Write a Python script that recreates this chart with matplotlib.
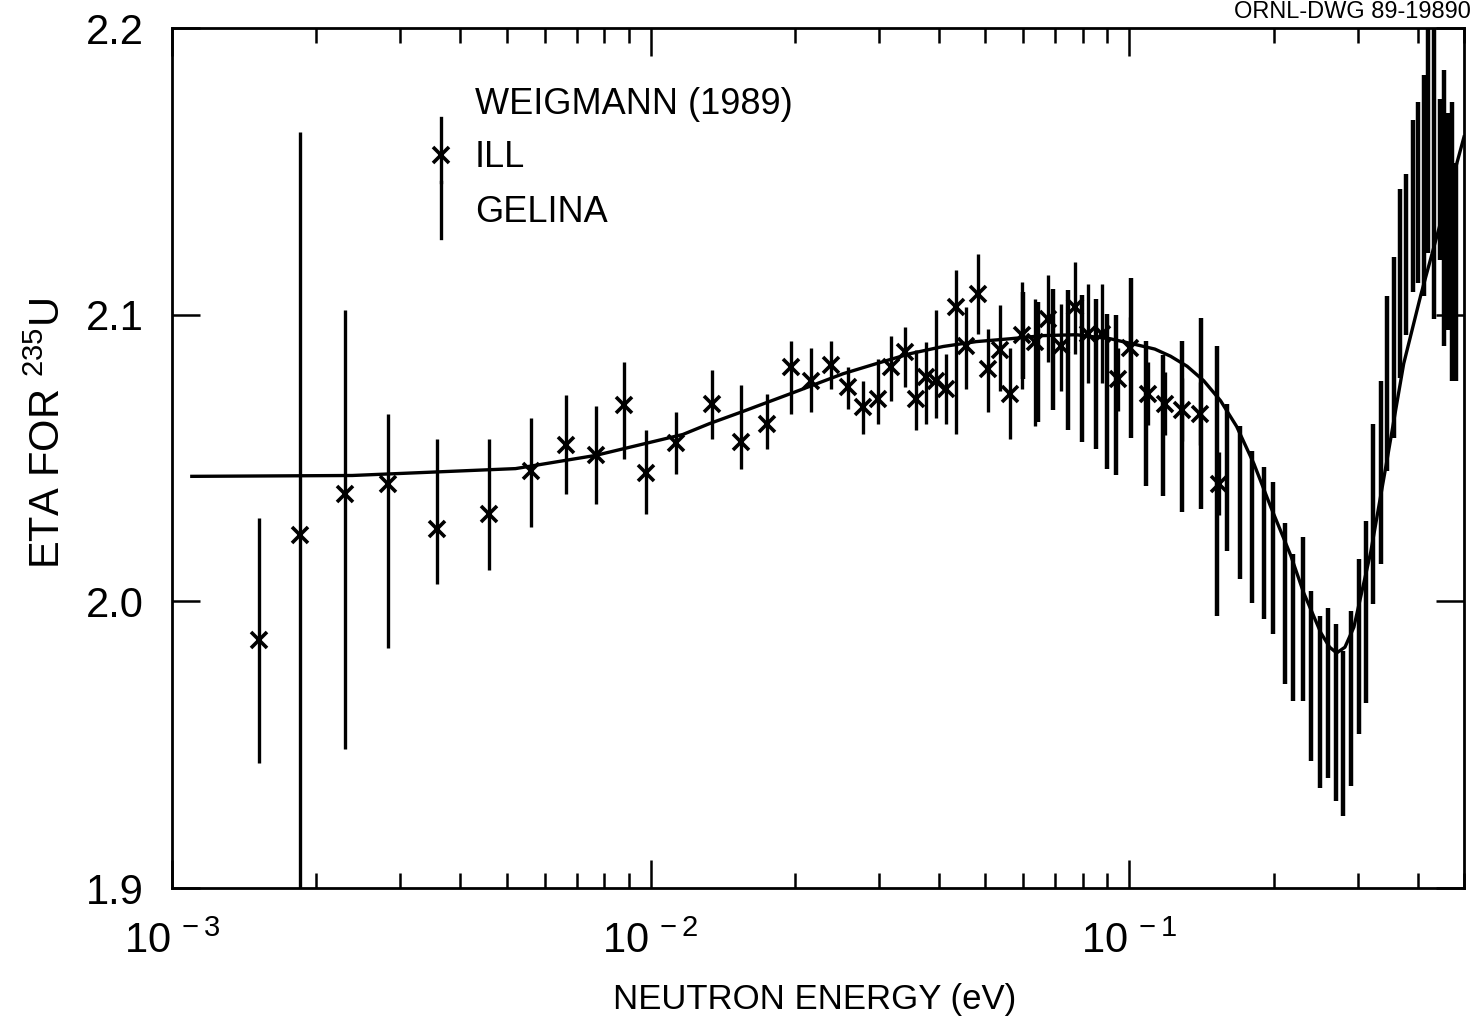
import matplotlib
matplotlib.use('Agg')
import matplotlib.pyplot as plt
from matplotlib.ticker import NullFormatter, NullLocator, LogLocator
import numpy as np

plt.rcParams['font.family'] = ['Liberation Sans', 'DejaVu Sans']

# ILL (Weigmann 1989): energy (eV), eta, lower / upper end of error bar
ill_e = [1.52e-3, 1.85e-3, 2.30e-3, 2.83e-3, 3.58e-3, 4.60e-3, 5.61e-3, 6.64e-3,
         7.67e-3, 8.78e-3, 9.76e-3, 1.128e-2, 1.341e-2, 1.543e-2, 1.749e-2, 1.963e-2,
         2.161e-2, 2.380e-2, 2.583e-2, 2.777e-2, 2.985e-2, 3.178e-2, 3.400e-2, 3.584e-2,
         3.761e-2, 3.947e-2, 4.142e-2, 4.346e-2, 4.560e-2, 4.831e-2, 5.070e-2, 5.373e-2,
         5.637e-2, 5.973e-2, 6.358e-2, 6.768e-2, 7.205e-2, 7.709e-2, 8.207e-2, 8.781e-2,
         9.484e-2, 0.1005, 0.1091, 0.1189, 0.1285, 0.1401, 0.1536]
ill_eta = [1.9864, 2.0233, 2.0373, 2.0408, 2.0251, 2.0303, 2.0453, 2.0547,
           2.0512, 2.0686, 2.0449, 2.0551, 2.0690, 2.0557, 2.0620, 2.0819,
           2.0767, 2.0826, 2.0749, 2.0679, 2.0707, 2.0819, 2.0871, 2.0707,
           2.0784, 2.0767, 2.0742, 2.1028, 2.0889, 2.1073, 2.0812, 2.0878,
           2.0725, 2.0930, 2.0906, 2.0986, 2.0889, 2.1028, 2.0934, 2.0934,
           2.0774, 2.0882, 2.0725, 2.0690, 2.0669, 2.0655, 2.0411]
ill_hi = [2.0289, 2.1638, 2.1017, 2.0652, 2.0568, 2.0568, 2.0641, 2.0721,
          2.0683, 2.0836, 2.0599, 2.0662, 2.0808, 2.0756, 2.0725, 2.0909,
          2.0882, 2.0909, 2.0819, 2.0767, 2.0847, 2.0927, 2.0958, 2.0878,
          2.0906, 2.1017, 2.0864, 2.1157, 2.1028, 2.1213, 2.0951, 2.1035,
          2.0882, 2.1115, 2.1056, 2.1139, 2.1038, 2.1185, 2.1108, 2.1108,
          2.0885, 2.0993, 2.0835, 2.0800, 2.0780, 2.0765, 2.0520]
ill_lo = [1.9436, 1.8800, 1.9484, 1.9836, 2.0059, 2.0111, 2.0258, 2.0376,
          2.0341, 2.0498, 2.0303, 2.0443, 2.0568, 2.0463, 2.0530, 2.0652,
          2.0662, 2.0742, 2.0672, 2.0585, 2.0617, 2.0700, 2.0749, 2.0599,
          2.0617, 2.0638, 2.0617, 2.0582, 2.0742, 2.0934, 2.0662, 2.0732,
          2.0568, 2.0742, 2.0610, 2.0836, 2.0732, 2.0864, 2.0760, 2.0760,
          2.0663, 2.0771, 2.0615, 2.0580, 2.0560, 2.0545, 2.0300]

# GELINA: energy (eV), lower / upper end of error bar
gel_e = [6.00e-2, 6.451e-2, 6.934e-2, 7.455e-2, 7.975e-2, 8.531e-2, 8.995e-2, 9.394e-2,
         0.1010, 0.1085, 0.1178, 0.1285, 0.1408, 0.1521, 0.1596, 0.1699,
         0.1800, 0.1907, 0.1992, 0.2110, 0.2193, 0.2301, 0.2392, 0.2497,
         0.2595, 0.2698, 0.2790, 0.2900, 0.3014, 0.3117, 0.3224, 0.3351,
         0.3449, 0.3567, 0.3672, 0.3780, 0.3910, 0.4005, 0.4122, 0.4202,
         0.4325, 0.4452, 0.4539, 0.4627, 0.4717, 0.4808]
gel_hi = [2.1080, 2.1045, 2.1091, 2.1087, 2.1070, 2.1056, 2.1003, 2.1000,
          2.1129, 2.0909, 2.0861, 2.0909, 2.0990, 2.0889, 2.0690, 2.0610,
          2.0523, 2.0470, 2.0418, 2.0272, 2.0164, 2.0226, 2.0035, 1.9948,
          1.9976, 1.9920, 1.9826, 1.9965, 2.0146, 2.0279, 2.0620, 2.0767,
          2.1066, 2.1202, 2.1439, 2.1491, 2.1679, 2.1742, 2.1836, 2.2100,
          2.2100, 2.1753, 2.1854, 2.1704, 2.1742, 2.1530]
gel_lo = [2.0774, 2.0627, 2.0669, 2.0599, 2.0557, 2.0530, 2.0460, 2.0439,
          2.0571, 2.0401, 2.0369, 2.0310, 2.0321, 1.9948, 2.0174, 2.0077,
          1.9993, 1.9937, 1.9885, 1.9711, 1.9652, 1.9652, 1.9443, 1.9348,
          1.9383, 1.9303, 1.9251, 1.9355, 1.9537, 1.9645, 1.9990, 2.0129,
          2.0453, 2.0571, 2.0780, 2.0930, 2.1080, 2.1111, 2.1066, 2.1216,
          2.0986, 2.1192, 2.0892, 2.0948, 2.0767, 2.0770]

# evaluated curve
curve_e = [1.10e-3, 2.38e-3, 5.22e-3, 7.67e-3, 9.77e-3, 1.167e-2, 1.327e-2, 1.556e-2,
           1.963e-2, 2.523e-2, 2.958e-2, 3.483e-2, 4.083e-2, 4.786e-2, 5.636e-2, 6.607e-2,
           7.745e-2, 9.120e-2, 0.1035, 0.1130, 0.1219, 0.1320, 0.1429, 0.1550,
           0.1675, 0.1820, 0.1972, 0.2173, 0.2312, 0.2512, 0.2620, 0.2710,
           0.2820, 0.2944, 0.3192, 0.3451, 0.3741, 0.4064, 0.4385, 0.4764, 0.5]
curve_eta = [2.0436, 2.0439, 2.0463, 2.0509, 2.0551, 2.0582, 2.0620, 2.0662,
             2.0725, 2.0794, 2.0829, 2.0864, 2.0889, 2.0906, 2.0916, 2.0927,
             2.0930, 2.0916, 2.0895, 2.0880, 2.0855, 2.0820, 2.0770, 2.0700,
             2.0610, 2.0480, 2.0331, 2.0160, 2.0030, 1.9890, 1.9840, 1.9820,
             1.9840, 1.9910, 2.0171, 2.0491, 2.0829, 2.1070, 2.1272, 2.1491, 2.1620]

W, H = 1474, 1033
fig = plt.figure(figsize=(W / 100, H / 100), dpi=100)
ax = fig.add_axes([172 / W, 1 - 888 / H, 1292 / W, 860 / H])
ax.set_xscale('log')

ill_e_a = np.array(ill_e)
ill_eta_a = np.array(ill_eta)
yerr = [ill_eta_a - np.array(ill_lo), np.array(ill_hi) - ill_eta_a]
ax.errorbar(ill_e_a, ill_eta_a, yerr=yerr, fmt='x', color='k', ms=11, mew=2.6,
            elinewidth=2.4, capsize=0)
ax.vlines(gel_e, gel_lo, gel_hi, color='k', lw=3.2)
ax.plot(curve_e, curve_eta, color='k', lw=2.4)

ax.set_xlim(1e-3, 0.5)
ax.set_ylim(1.9, 2.2)

ax.set_xticks([1e-3, 1e-2, 1e-1])
ax.set_xticklabels([r'$\mathregular{10^{\,-3}}$', r'$\mathregular{10^{\,-2}}$',
                    r'$\mathregular{10^{\,-1}}$'])
ax.xaxis.set_minor_locator(LogLocator(base=10, subs=np.arange(2, 10)))
ax.xaxis.set_minor_formatter(NullFormatter())
ax.set_yticks([1.9, 2.0, 2.1, 2.2])
ax.set_yticklabels(['1.9', '2.0', '2.1', '2.2'])
ax.yaxis.set_minor_locator(NullLocator())

ax.tick_params(which='both', direction='in', top=True, right=True, width=1.8,
               labelsize=30)
ax.tick_params(which='major', length=20)
ax.tick_params(which='minor', length=11)
ax.tick_params(axis='y', pad=20)
ax.tick_params(axis='x', pad=24)
for s in ax.spines.values():
    s.set_linewidth(2)

# legend drawn by hand
tr = ax.transAxes
ax.text(0.2345, 0.9105, 'WEIGMANN (1989)', transform=tr, fontsize=26, va='center')
ax.text(0.2345, 0.849, 'ILL', transform=tr, fontsize=26, va='center')
ax.text(0.2345, 0.786, 'GELINA', transform=tr, fontsize=26, va='center')
ax.plot([0.2082, 0.2082], [0.821, 0.895], transform=tr, color='k', lw=2.4)
ax.plot([0.2082], [0.852], transform=tr, marker='x', color='k', ms=11, mew=2.6)
ax.plot([0.2082, 0.2082], [0.756, 0.821], transform=tr, color='k', lw=2.4)

fig.text(0.033, 0.58, r'ETA FOR $\mathregular{^{235}}$U', rotation=90, fontsize=30,
         ha='center', va='center')
fig.text(0.553, 0.032, 'NEUTRON ENERGY (eV)', fontsize=25, ha='center', va='center')
fig.text(0.998, 0.999, 'ORNL-DWG 89-19890', fontsize=17, ha='right', va='top')

fig.savefig('out.png', dpi=100)
